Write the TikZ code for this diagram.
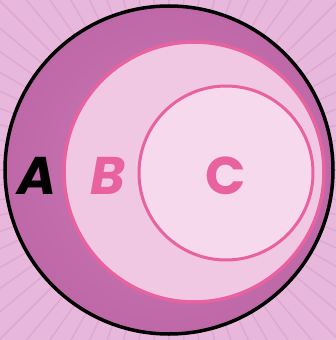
\documentclass[tikz,border=0pt]{standalone}
\usepackage{fontspec}
\setmainfont{Poppins}
\usetikzlibrary{positioning}

\definecolor{bgpink}{RGB}{232,184,220}
\definecolor{stripepink}{RGB}{222,168,210}
\definecolor{ringpink}{RGB}{204,120,182}
\definecolor{ringdark}{RGB}{190,104,168}
\definecolor{fillB}{RGB}{240,200,228}
\definecolor{fillC}{RGB}{246,217,236}
\definecolor{linepink}{RGB}{232,98,160}

\begin{document}
\begin{tikzpicture}[x=1pt, y=-1pt,
    lbl/.style={font=\fontsize{53}{53}\selectfont\bfseries\itshape}]
    \useasboundingbox (0,0) rectangle (336,340);
    % background with rays
    \fill[bgpink] (0,0) rectangle (336,340);
    \foreach \a in {0,5,...,355}
        \draw[stripepink, line width=1.5pt] (169,170) -- ++(\a:260);
    % set A
    \shade[inner color=ringpink, outer color=ringdark] (169,170) circle (164);
    \draw[black, line width=3.5pt] (169,170) circle (164);
    % set B
    \fill[fillB] (194,172) circle (130);
    \draw[linepink, line width=3.5pt] (194,172) circle (130);
    % set C
    \fill[fillC] (226,173) circle (87);
    \draw[linepink, line width=3pt] (226,173) circle (87);
    % labels
    \node[lbl, text=black] (labA) at (37,176) {A};
    \node[lbl, text=linepink] (labB) at (108,176) {B};
    \node[lbl, text=linepink, font=\fontsize{53}{53}\selectfont\bfseries] (labC) at (226,176) {C};
\end{tikzpicture}
\end{document}
